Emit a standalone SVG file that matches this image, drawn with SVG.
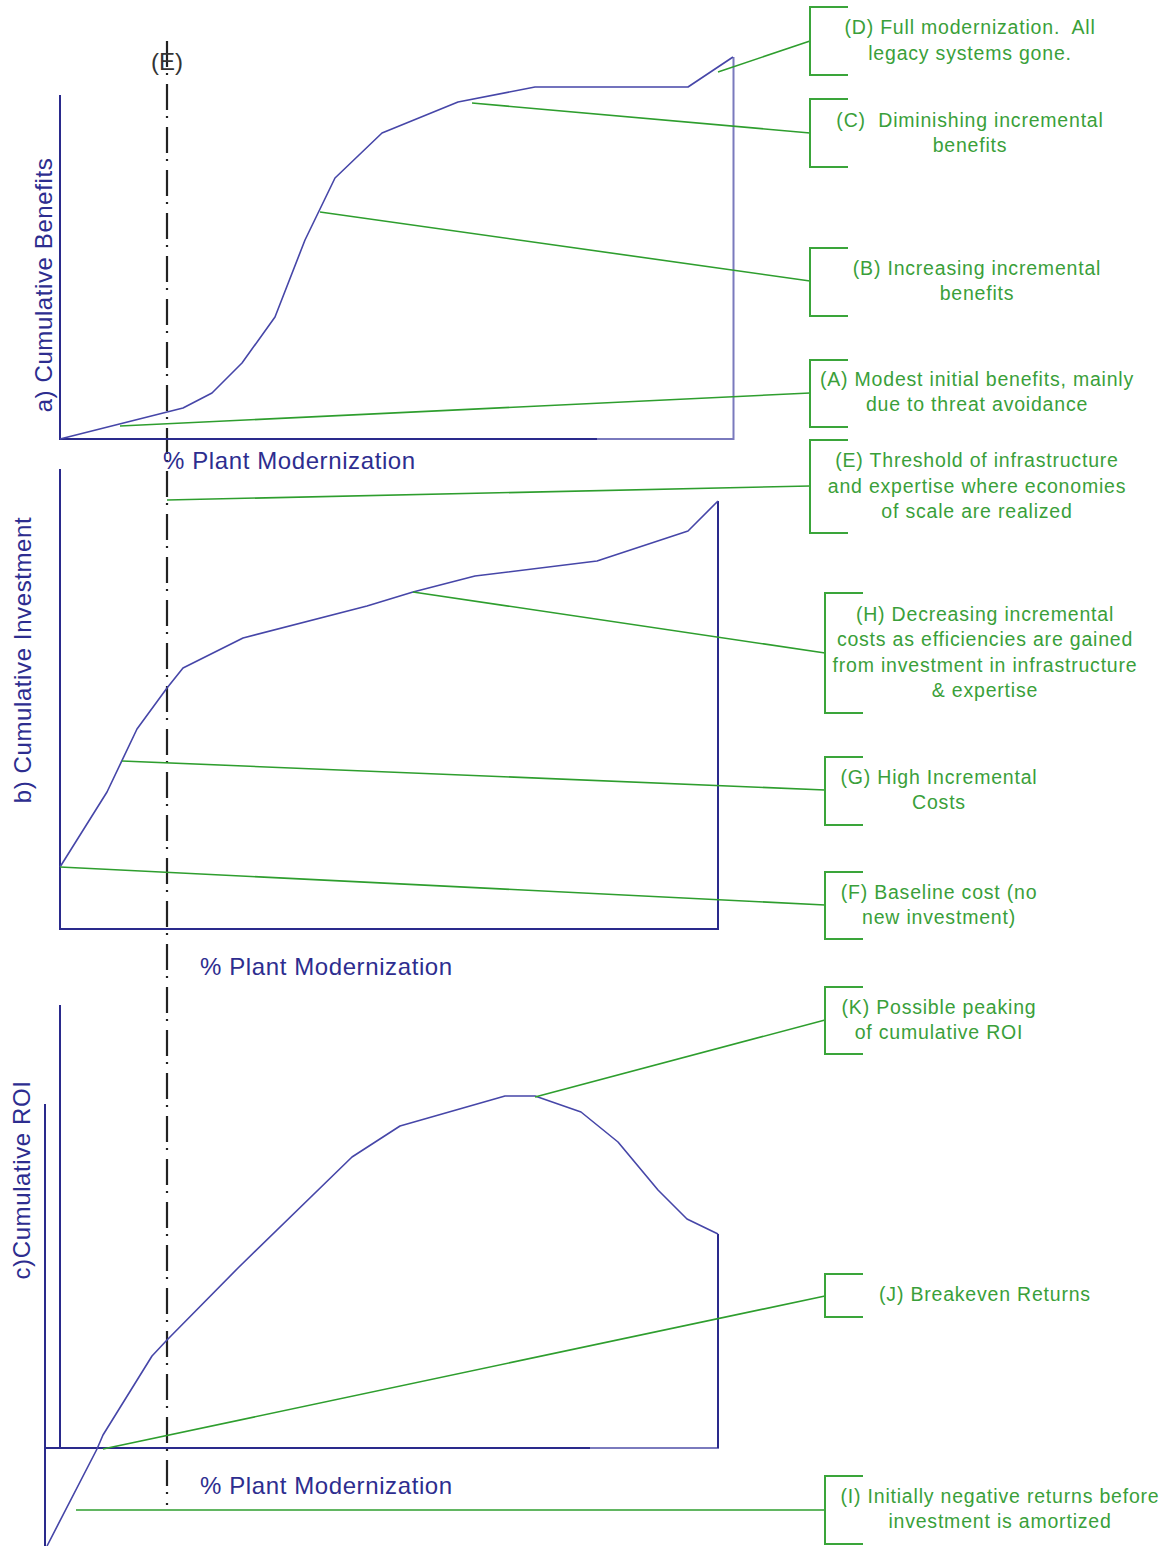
<svg xmlns="http://www.w3.org/2000/svg" width="1165" height="1546" viewBox="0 0 1165 1546">
<style>
.ann{font-family:"Liberation Sans",Arial,sans-serif;font-size:19.5px;fill:#3a9f3a;text-anchor:middle;letter-spacing:0.8px}
.ax{font-family:"Liberation Sans",Arial,sans-serif;font-size:24px;fill:#2d2d8f;letter-spacing:0.6px}
.axc{text-anchor:middle}
.br{fill:none;stroke:#3aa53a;stroke-width:2}
.con{fill:none;stroke:#2e9e2e;stroke-width:1.6}
.axis{fill:none;stroke:#2a2a8c;stroke-width:2}
.axl{fill:none;stroke:#7a7abd;stroke-width:2}
.crv{fill:none;stroke:#4646a8;stroke-width:1.6;stroke-linejoin:round}
.dd{fill:none;stroke:#222;stroke-width:2.2;stroke-dasharray:26 6 2 9}
</style>
<rect width="1165" height="1546" fill="#fff"/>

<g id="threshold-line">
<line class="dd" x1="167" y1="41" x2="167" y2="1505"/>
<text x="167" y="70" font-family="Liberation Sans,Arial,sans-serif" font-size="24" fill="#333" text-anchor="middle">(E)</text>
</g>

<g id="panel-a">
<line class="axis" x1="60" y1="95" x2="60" y2="439"/>
<line class="axis" x1="59" y1="439" x2="597" y2="439"/>
<polyline class="axl" points="597,439 733.5,439 733.5,57"/>
<polyline class="crv" points="60,439 183,408 212,393 242,363 275,317 305,240 335,178 382,133 458,102 535,87 688,87 733,57"/>
<text class="ax axc" transform="translate(52,285) rotate(-90)">a) Cumulative Benefits</text>
<text class="ax" x="163" y="469">% Plant Modernization</text>
</g>

<g id="panel-b">
<line class="axis" x1="60" y1="469" x2="60" y2="929"/>
<polyline class="axis" points="59,929 718,929 718,501"/>
<polyline class="crv" points="60,867 107,792 137,729 167,688 183,668 243,638 367,606 413,592 475,576 597,561 688,531 718,501"/>
<text class="ax axc" transform="translate(31,660) rotate(-90)">b) Cumulative Investment</text>
<text class="ax" x="200" y="975">% Plant Modernization</text>
</g>

<g id="panel-c">
<line class="axis" x1="60" y1="1005" x2="60" y2="1448"/>
<line class="axis" x1="45" y1="1104" x2="45" y2="1546"/>
<line class="axis" x1="44" y1="1448" x2="590" y2="1448"/>
<polyline class="axl" points="590,1448 718,1448 718,1234"/>
<line x1="718" y1="1234" x2="718" y2="1448" stroke="#2a2a8c" stroke-width="2"/>
<polyline class="crv" points="47,1546 97,1449 103,1435 152,1356 167,1340 238,1268 352,1157 400,1126 505,1096 535,1096 581,1112 618,1142 658,1190 687,1219 718,1234"/>
<text class="ax axc" transform="translate(30,1180) rotate(-90)">c)Cumulative ROI</text>
<text class="ax" x="200" y="1494">% Plant Modernization</text>
</g>

<g id="connectors">
<line class="con" x1="718" y1="72" x2="810" y2="41"/>
<line class="con" x1="472" y1="103" x2="810" y2="133"/>
<line class="con" x1="320" y1="212" x2="810" y2="281"/>
<line class="con" x1="120" y1="426" x2="810" y2="393"/>
<line class="con" x1="167" y1="500" x2="810" y2="486"/>
<line class="con" x1="413" y1="592" x2="825" y2="653"/>
<line class="con" x1="122" y1="761" x2="825" y2="790"/>
<line class="con" x1="60" y1="867" x2="825" y2="905"/>
<line class="con" x1="535" y1="1097" x2="825" y2="1020"/>
<line class="con" x1="103" y1="1449" x2="825" y2="1296"/>
<line class="con" x1="76" y1="1510" x2="825" y2="1510"/>
</g>

<g id="note-D">
<path class="br" d="M848 7H810V75H848"/>
<text class="ann" x="970" y="34" xml:space="preserve">(D) Full modernization.  All</text>
<text class="ann" x="970" y="60">legacy systems gone.</text>
</g>
<g id="note-C">
<path class="br" d="M848 99H810V167H848"/>
<text class="ann" x="970" y="127" xml:space="preserve">(C)  Diminishing incremental</text>
<text class="ann" x="970" y="152">benefits</text>
</g>
<g id="note-B">
<path class="br" d="M848 248H810V316H848"/>
<text class="ann" x="977" y="275">(B) Increasing incremental</text>
<text class="ann" x="977" y="300">benefits</text>
</g>
<g id="note-A">
<path class="br" d="M848 360H810V427H848"/>
<text class="ann" x="977" y="386">(A) Modest initial benefits, mainly</text>
<text class="ann" x="977" y="411">due to threat avoidance</text>
</g>
<g id="note-E">
<path class="br" d="M848 440H810V533H848"/>
<text class="ann" x="977" y="467">(E) Threshold of infrastructure</text>
<text class="ann" x="977" y="493">and expertise where economies</text>
<text class="ann" x="977" y="518">of scale are realized</text>
</g>
<g id="note-H">
<path class="br" d="M863 593H825V713H863"/>
<text class="ann" x="985" y="621">(H) Decreasing incremental</text>
<text class="ann" x="985" y="646">costs as efficiencies are gained</text>
<text class="ann" x="985" y="672">from investment in infrastructure</text>
<text class="ann" x="985" y="697">&amp; expertise</text>
</g>
<g id="note-G">
<path class="br" d="M863 757H825V825H863"/>
<text class="ann" x="939" y="784">(G) High Incremental</text>
<text class="ann" x="939" y="809">Costs</text>
</g>
<g id="note-F">
<path class="br" d="M863 872H825V939H863"/>
<text class="ann" x="939" y="899">(F) Baseline cost (no</text>
<text class="ann" x="939" y="924">new investment)</text>
</g>
<g id="note-K">
<path class="br" d="M863 987H825V1054H863"/>
<text class="ann" x="939" y="1014">(K) Possible peaking</text>
<text class="ann" x="939" y="1039">of cumulative ROI</text>
</g>
<g id="note-J">
<path class="br" d="M863 1274H825V1317H863"/>
<text class="ann" x="985" y="1301">(J) Breakeven Returns</text>
</g>
<g id="note-I">
<path class="br" d="M863 1476H825V1544H863"/>
<text class="ann" x="1000" y="1503">(I) Initially negative returns before</text>
<text class="ann" x="1000" y="1528">investment is amortized</text>
</g>
</svg>
